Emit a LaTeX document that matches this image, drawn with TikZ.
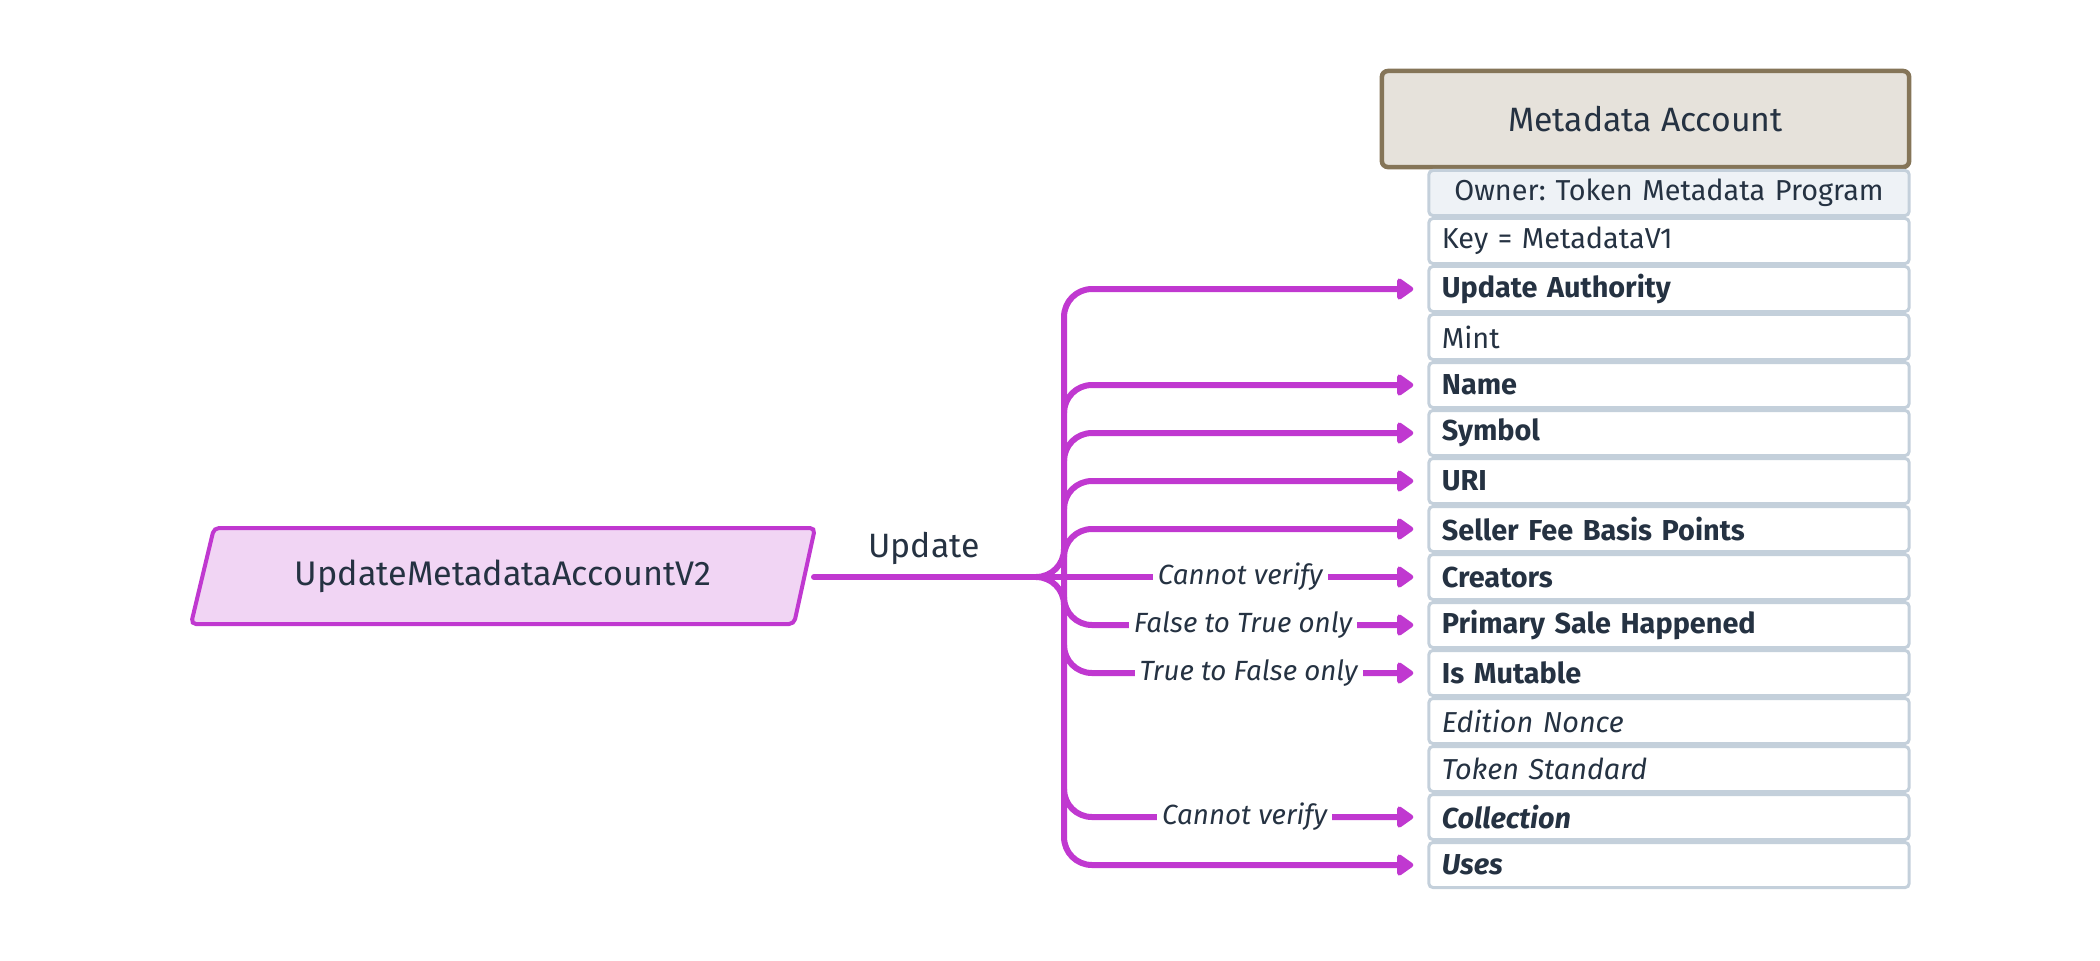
\documentclass[tikz,border=0pt]{standalone}
\usepackage{fontspec}
\setmainfont{Fira Sans}
\usetikzlibrary{arrows.meta}
\definecolor{mag}{RGB}{192,56,208}
\definecolor{mainfill}{RGB}{241,213,244}
\definecolor{headfill}{RGB}{230,226,219}
\definecolor{headline}{RGB}{133,117,88}
\definecolor{ownerfill}{RGB}{238,242,246}
\definecolor{rowline}{RGB}{196,208,219}
\definecolor{ink}{RGB}{37,50,66}
\frenchspacing
\begin{document}
\begin{tikzpicture}[x=0.01cm,y=-0.01cm,
  flow/.style={draw=mag, line width=0.06cm, line cap=round, line join=round},
  arr/.style={flow, -{Triangle[length=0.18cm,width=0.24cm,round]}, shorten >=0.14cm},
  rowbox/.style={draw=rowline, line width=0.03cm, fill=white, rounded corners=0.04cm,
    minimum width=4.8cm, minimum height=0.45cm, text width=4.54cm, align=left,
    inner xsep=0.13cm, inner ysep=0pt, text=ink, font=\fontsize{8.2}{10}\selectfont},
  ownerbox/.style={rowbox, fill=ownerfill, align=center},
  headbox/.style={draw=headline, line width=0.045cm, fill=headfill, rounded corners=0.06cm,
    minimum width=5.27cm, minimum height=0.96cm, text=ink, font=\fontsize{9.6}{12}\selectfont},
  lbl/.style={fill=white, inner xsep=0.05cm, inner ysep=0.02cm, text=ink,
    font=\itshape\fontsize{7.9}{10}\selectfont},
  bold/.style={font=\bfseries\fontsize{8.2}{10}\selectfont},
  bolditalic/.style={font=\bfseries\itshape\fontsize{8.2}{10}\selectfont},
  ital/.style={font=\itshape\fontsize{8.2}{10}\selectfont}
]
\useasboundingbox (0,0) rectangle (2100,960);

% header
\node[headbox] (head) at (1645.5,119) {Metadata Account};

% rows
\node[ownerbox] (r0) at (1669,193) {Owner: Token Metadata Program};
\node[rowbox] (r1) at (1669,241) {Key = MetadataV1};
\node[rowbox,bold] (r2) at (1669,289) {Update Authority};
\node[rowbox] (r3) at (1669,337) {Mint};
\node[rowbox,bold] (r4) at (1669,385) {Name};
\node[rowbox,bold] (r5) at (1669,433) {Symbol};
\node[rowbox,bold] (r6) at (1669,481) {URI};
\node[rowbox,bold] (r7) at (1669,529) {Seller Fee Basis Points};
\node[rowbox,bold] (r8) at (1669,577) {Creators};
\node[rowbox,bold] (r9) at (1669,625) {Primary Sale Happened};
\node[rowbox,bold] (r10) at (1669,673) {Is Mutable};
\node[rowbox,ital] (r11) at (1669,721) {Edition Nonce};
\node[rowbox,ital] (r12) at (1669,769) {Token Standard};
\node[rowbox,bolditalic] (r13) at (1669,817) {Collection};
\node[rowbox,bolditalic] (r14) at (1669,865) {Uses};

% instruction
\draw[draw=mag, line width=0.04cm, fill=mainfill, rounded corners=0.05cm]
  (214,528) -- (815,528) -- (794,624) -- (191,624) -- cycle;
\node[text=ink, font=\fontsize{9.7}{12}\selectfont] (main) at (503,576) {UpdateMetadataAccountV2};
\coordinate (mainR) at (814,577);
\coordinate (hub) at (1036,577);
\coordinate (trunk) at (1064,577);

% main line and brace
\draw[flow] (mainR) -- (hub);
\node[text=ink, font=\fontsize{9.6}{12}\selectfont] (upd) at (924,548) {Update};
\draw[flow] (hub) to[out=0,in=-90] ([yshift=0.28cm]trunk);
\draw[flow] (hub) to[out=0,in=90] ([yshift=-0.28cm]trunk);
\draw[arr] (hub) -- node[lbl, pos=0.522] {Cannot verify} (r8.west);

% trunk with top and bottom
\draw[arr] ([yshift=0.28cm]r14.west -| trunk) -- ([yshift=-0.28cm]r2.west -| trunk)
  to[out=90,in=180] ([xshift=0.28cm]r2.west -| trunk) -- (r2.west);
\draw[arr] ([yshift=0.28cm]r14.west -| trunk) to[out=-90,in=180] ([xshift=0.28cm]r14.west -| trunk) -- (r14.west);

% upward branches
\foreach \r in {r4,r5,r6,r7}{
  \draw[arr] ([yshift=-0.28cm]\r.west -| trunk) to[out=90,in=180] ([xshift=0.28cm]\r.west -| trunk) -- (\r.west);
}
% downward branches
\draw[arr] ([yshift=0.28cm]r9.west -| trunk) to[out=-90,in=180] ([xshift=0.28cm]r9.west -| trunk)
  -- node[lbl, pos=0.45] {False to True only} (r9.west);
\draw[arr] ([yshift=0.28cm]r10.west -| trunk) to[out=-90,in=180] ([xshift=0.28cm]r10.west -| trunk)
  -- node[lbl, pos=0.467] {True to False only} (r10.west);
\draw[arr] ([yshift=0.28cm]r13.west -| trunk) to[out=-90,in=180] ([xshift=0.28cm]r13.west -| trunk)
  -- node[lbl, pos=0.455] {Cannot verify} (r13.west);
\end{tikzpicture}
\end{document}
